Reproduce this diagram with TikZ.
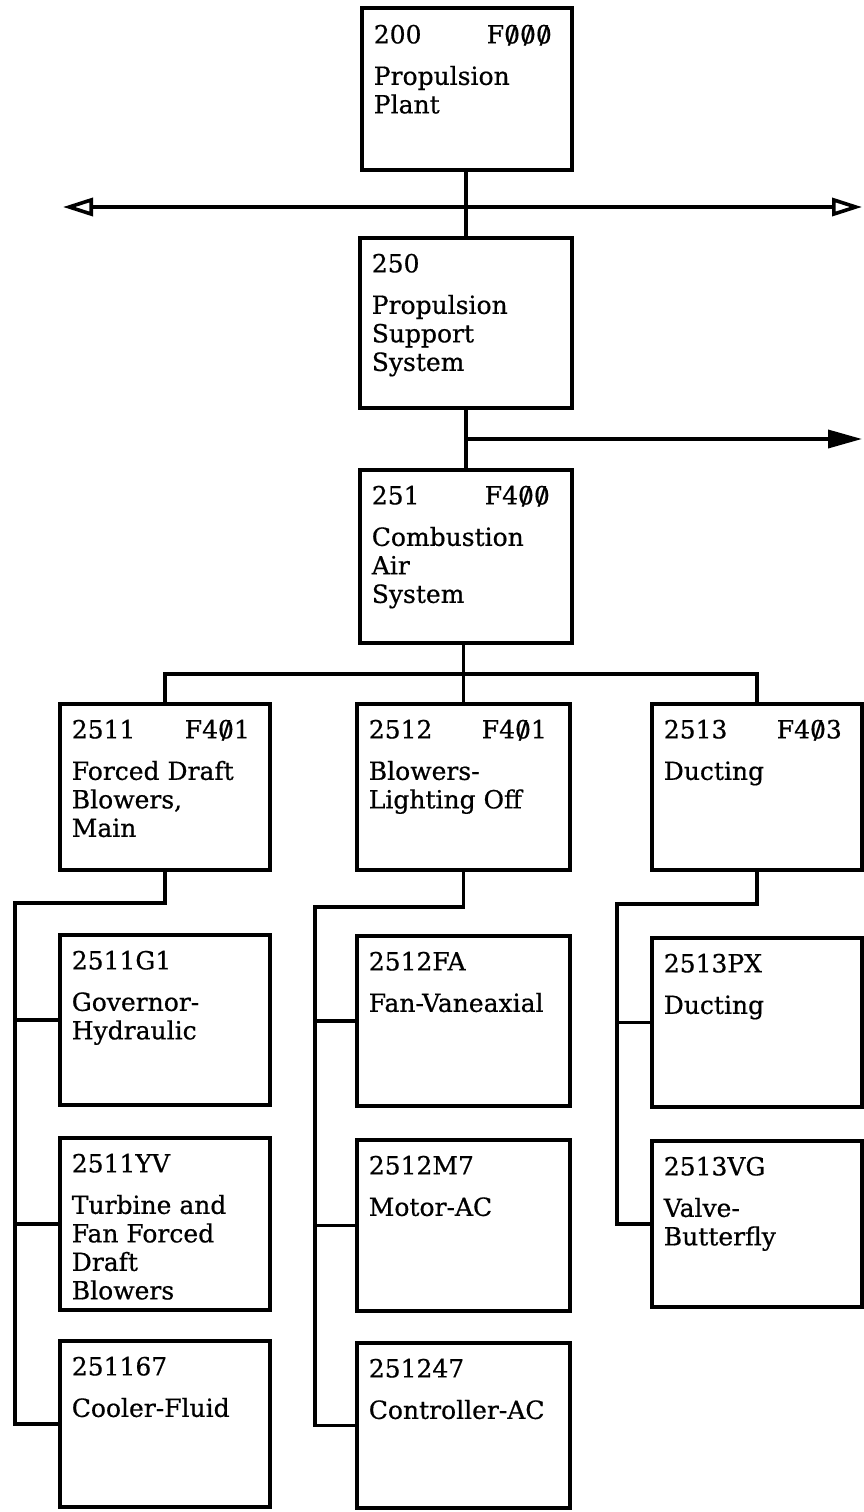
\documentclass[tikz,border=0pt]{standalone}
\usepackage{fontspec}
\setmainfont{DejaVu Serif}[FakeBold=0.6]
\usetikzlibrary{arrows.meta}

\newcommand{\sz}{\ooalign{0\cr\hidewidth/\hidewidth\cr}}
\newcommand{\hdr}[2]{\makebox[113pt][l]{#1}#2}

\begin{document}
\begin{tikzpicture}[x=1pt, y=-1pt, line width=3.6pt,
    box/.style={draw, rectangle, line width=3.8pt, anchor=north west, inner sep=0pt, outer sep=0pt},
    txt/.style={anchor=north west, inner sep=0pt, align=left, font=\fontsize{25}{28.5}\selectfont}]
        \fill[white] (0,0) rectangle (864,1512);
        \useasboundingbox (0,0) rectangle (864,1512);

        % top levels
        \node[box, minimum width=210, minimum height=162] (b200) at (362,8) {};
        \node[txt] (t200) at ([xshift=10, yshift=-15]b200.north west) {\hdr{200}{F\sz\sz\sz}\\[13pt]Propulsion\\Plant};
        \node[box, minimum width=212, minimum height=170] (b250) at (360,238) {};
        \node[txt] (t250) at ([xshift=10, yshift=-14]b250.north west) {250\\[13pt]Propulsion\\Support\\System};
        \node[box, minimum width=212, minimum height=173] (b251) at (360,470) {};
        \node[txt] (t251) at ([xshift=10, yshift=-14]b251.north west) {\hdr{251}{F4\sz\sz}\\[13pt]Combustion\\Air\\System};

        % second row
        \node[box, minimum width=210, minimum height=166] (b2511) at (60,704) {};
        \node[txt] (t2511) at ([xshift=10, yshift=-14]b2511.north west) {\hdr{2511}{F4\sz1}\\[13pt]Forced Draft\\Blowers,\\Main};
        \node[box, minimum width=213, minimum height=166] (b2512) at (357,704) {};
        \node[txt] (t2512) at ([xshift=10, yshift=-14]b2512.north west) {\hdr{2512}{F4\sz1}\\[13pt]Blowers-\\Lighting Off};
        \node[box, minimum width=210, minimum height=166] (b2513) at (652,704) {};
        \node[txt] (t2513) at ([xshift=10, yshift=-14]b2513.north west) {\hdr{2513}{F4\sz3}\\[13pt]Ducting};

        % parts under 2511
        \node[box, minimum width=210, minimum height=170] (b2511a) at (60,935) {};
        \node[txt] (t2511a) at ([xshift=10, yshift=-14]b2511a.north west) {2511G1\\[13pt]Governor-\\Hydraulic};
        \node[box, minimum width=210, minimum height=172] (b2511b) at (60,1138) {};
        \node[txt] (t2511b) at ([xshift=10, yshift=-14]b2511b.north west) {2511YV\\[13pt]Turbine and\\Fan Forced\\Draft\\Blowers};
        \node[box, minimum width=210, minimum height=166] (b2511c) at (60,1341) {};
        \node[txt] (t2511c) at ([xshift=10, yshift=-14]b2511c.north west) {251167\\[13pt]Cooler-Fluid};

        % parts under 2512
        \node[box, minimum width=213, minimum height=170] (b2512a) at (357,936) {};
        \node[txt] (t2512a) at ([xshift=10, yshift=-14]b2512a.north west) {2512FA\\[13pt]Fan-Vaneaxial};
        \node[box, minimum width=213, minimum height=171] (b2512b) at (357,1140) {};
        \node[txt] (t2512b) at ([xshift=10, yshift=-14]b2512b.north west) {2512M7\\[13pt]Motor-AC};
        \node[box, minimum width=213, minimum height=165] (b2512c) at (357,1343) {};
        \node[txt] (t2512c) at ([xshift=10, yshift=-14]b2512c.north west) {251247\\[13pt]Controller-AC};

        % parts under 2513
        \node[box, minimum width=210, minimum height=169] (b2513a) at (652,938) {};
        \node[txt] (t2513a) at ([xshift=10, yshift=-14]b2513a.north west) {2513PX\\[13pt]Ducting};
        \node[box, minimum width=210, minimum height=166] (b2513b) at (652,1141) {};
        \node[txt] (t2513b) at ([xshift=10, yshift=-14]b2513b.north west) {2513VG\\[13pt]Valve-\\Butterfly};

        % connectors
        \coordinate (lt) at (63,207);
        \coordinate (rt) at (862,207);
        \coordinate (r2) at (862,439);
        \draw[{Triangle[open, length=30pt, width=18pt]}-{Triangle[open, length=30pt, width=18pt]}] (lt) -- (rt);
        \draw (b250.north |- b200.south) -- (b250.north);
        \draw (b250.south) -- (b251.north);
        \draw[-{Triangle[length=34pt, width=18pt]}] (b250.south |- r2) -- (r2);
        \draw (b2512.north |- b251.south) -- (b2512.north);
        \draw (b2511.north) -- ++(0,-30) -| (b2513.north);

        \coordinate (k1) at (15,903);
        \coordinate (k2) at (315,907);
        \coordinate (k3) at (617,904);
        \draw (b2511.south) |- (k1) |- (b2511c.west);
        \draw (k1 |- b2511a.west) -- (b2511a.west);
        \draw (k1 |- b2511b.west) -- (b2511b.west);
        \draw (b2512.south) |- (k2) |- (b2512c.west);
        \draw (k2 |- b2512a.west) -- (b2512a.west);
        \draw (k2 |- b2512b.west) -- (b2512b.west);
        \draw (b2513.south) |- (k3) |- (b2513b.west);
        \draw (k3 |- b2513a.west) -- (b2513a.west);
\end{tikzpicture}
\end{document}
